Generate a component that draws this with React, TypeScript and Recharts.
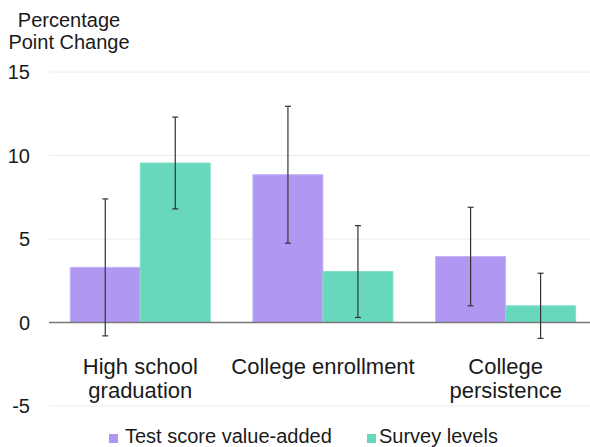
import React from 'react';
import { BarChart, Bar, XAxis, YAxis, CartesianGrid, ErrorBar, ReferenceLine } from 'recharts';

const categories = ['High school\ngraduation', 'College enrollment', 'College\npersistence'];
const testScoreValues = [3.3, 8.85, 3.95];
const testScoreErrors = [4.1, 4.1, 2.95];
const surveyValues = [9.55, 3.05, 1.0];
const surveyErrors = [2.75, 2.75, 1.95];
const yTicks = [-5, 0, 5, 10, 15];
const seriesNames = ['Test score value-added', 'Survey levels'];
const seriesColors = ['#b097f2', '#68d8bd'];

const data = categories.map((c, i) => ({
  name: c,
  test: testScoreValues[i],
  testErr: testScoreErrors[i],
  survey: surveyValues[i],
  surveyErr: surveyErrors[i],
}));

const FONT = '"Liberation Sans", Arial, Helvetica, sans-serif';

const XTick = (props: any) => {
  const { x, y, payload } = props;
  const lines = String(payload.value).split('\n');
  return (
    <text x={x} y={y - 32} textAnchor="middle" fontSize={22} fill="#1a1a1a" fontFamily={FONT}>
      {lines.map((l, i) => (
        <tspan key={i} x={x} dy={i === 0 ? 0 : 24}>
          {l}
        </tspan>
      ))}
    </text>
  );
};

export default function App() {
  return (
    <div style={{ position: 'absolute', left: 0, top: 0, width: 590, height: 447, fontFamily: FONT, overflow: 'hidden' }}>
      <div
        style={{
          position: 'absolute',
          left: 0,
          top: 9,
          width: 138,
          textAlign: 'center',
          fontSize: 20,
          lineHeight: '22px',
          color: '#1a1a1a',
        }}
      >
        Percentage
        <br />
        Point Change
      </div>
      <BarChart
        width={597}
        height={447}
        data={data}
        margin={{ top: 72, right: 0, left: 0, bottom: 40 }}
        barCategoryGap="11.64%"
        barGap={0}
      >
        <CartesianGrid vertical={false} stroke="#ececec" />
        <XAxis
          dataKey="name"
          axisLine={false}
          tickLine={false}
          tickSize={0}
          tickMargin={0}
          height={1}
          tick={<XTick />}
          interval={0}
        />
        <YAxis
          domain={[-5, 15]}
          ticks={yTicks}
          width={49}
          axisLine={false}
          tickLine={false}
          tickSize={0}
          tickMargin={19}
          tick={{ fontSize: 20, fill: '#1a1a1a', fontFamily: FONT }}
        />
        <ReferenceLine y={0} stroke="#777" strokeWidth={1.5} />
        <Bar dataKey="test" fill={seriesColors[0]} stroke="#c3b2f6" strokeWidth={1} isAnimationActive={false}>
          <ErrorBar dataKey="testErr" width={3} stroke="#333" strokeWidth={1.2} direction="y" />
        </Bar>
        <Bar dataKey="survey" fill={seriesColors[1]} stroke="#7fdfc8" strokeWidth={1} isAnimationActive={false}>
          <ErrorBar dataKey="surveyErr" width={3} stroke="#333" strokeWidth={1.2} direction="y" />
        </Bar>
      </BarChart>
      {seriesNames.map((n, i) => (
        <div
          key={n}
          style={{
            position: 'absolute',
            left: i === 0 ? 109 : 367,
            top: 426,
            display: 'flex',
            alignItems: 'center',
            fontSize: 20,
            lineHeight: '20px',
            color: '#1a1a1a',
            whiteSpace: 'nowrap',
          }}
        >
          <span
            style={{
              display: 'inline-block',
              width: 9,
              height: 9,
              background: seriesColors[i],
              marginRight: i === 0 ? 7 : 3,
              marginTop: 4,
            }}
          />
          {n}
        </div>
      ))}
    </div>
  );
}
